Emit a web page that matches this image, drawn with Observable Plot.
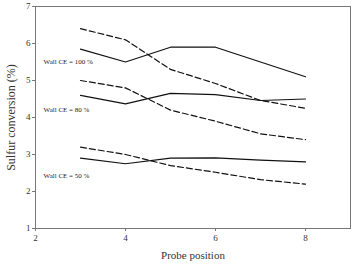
<!DOCTYPE html>
<html>
<head>
<meta charset="utf-8">
<script src="https://cdn.jsdelivr.net/npm/d3@7"></script>
<script src="https://cdn.jsdelivr.net/npm/@observablehq/plot@0.6"></script>
<style>
  html, body { margin: 0; padding: 0; background: #fff; }
  #chart svg { display: block; }
</style>
</head>
<body>
<div id="chart"></div>
<script>
// Probe positions and sulfur conversion (%) per wall capture efficiency
const positions = [3, 4, 5, 6, 7, 8];
const solid100 = [5.85, 5.5, 5.9, 5.9, 5.5, 5.1];
const dashed100 = [6.4, 6.1, 5.3, 4.92, 4.46, 4.25];
const solid80 = [4.6, 4.37, 4.65, 4.62, 4.46, 4.5];
const dashed80 = [5.0, 4.8, 4.2, 3.9, 3.56, 3.4];
const solid50 = [2.9, 2.75, 2.9, 2.91, 2.85, 2.8];
const dashed50 = [3.2, 3.0, 2.7, 2.52, 2.32, 2.2];

const labelText = ["Wall CE = 100 %", "Wall CE = 80 %", "Wall CE = 50 %"];
const labelX = [2.18, 2.18, 2.18];
const labelY = [5.52, 4.22, 2.42];

const xTicks = [2, 4, 6, 8];
const yTicks = [1, 2, 3, 4, 5, 6, 7];

const toRows = (vals) => positions.map((p, i) => ({x: p, y: vals[i]}));
const solidSeries = [solid100, solid80, solid50].map(toRows);
const dashedSeries = [dashed100, dashed80, dashed50].map(toRows);
const labels = labelText.map((t, i) => ({text: t, x: labelX[i], y: labelY[i]}));

const font = "'Liberation Serif', 'Times New Roman', serif";
const axisColor = "#777";

const chart = Plot.plot({
  width: 353,
  height: 264,
  marginLeft: 35,
  marginRight: 3,
  marginTop: 6,
  marginBottom: 36,
  style: {fontFamily: font, background: "#fff", color: "#333"},
  x: {domain: [2, 9]},
  y: {domain: [1, 7]},
  marks: [
    Plot.frame({stroke: axisColor, strokeWidth: 1}),
    Plot.axisX({
      ticks: xTicks, tickFormat: "d", tickSize: 3, tickPadding: 3, fontSize: 9, stroke: axisColor,
      label: "Probe position", labelAnchor: "center", labelArrow: "none", labelOffset: 30
    }),
    Plot.axisY({
      ticks: yTicks, tickFormat: "d", tickSize: 3, tickPadding: 2, fontSize: 9, stroke: axisColor,
      label: "Sulfur conversion (%)", labelAnchor: "center", labelArrow: "none", labelOffset: 29
    }),
    ...solidSeries.map(rows => Plot.line(rows, {x: "x", y: "y", stroke: "#111", strokeWidth: 1.2})),
    ...dashedSeries.map(rows => Plot.line(rows, {x: "x", y: "y", stroke: "#111", strokeWidth: 1.2, strokeDasharray: "6,3"})),
    Plot.text(labels, {x: "x", y: "y", text: "text", textAnchor: "start", fontSize: 7, fill: "#222"})
  ]
});

// Axis title font sizes
chart.querySelectorAll("[aria-label='x-axis label'] text")
  .forEach(t => t.setAttribute("font-size", 11));
chart.querySelectorAll("[aria-label='y-axis label'] text")
  .forEach(t => t.setAttribute("font-size", 12));

document.getElementById("chart").appendChild(chart);
</script>
</body>
</html>
